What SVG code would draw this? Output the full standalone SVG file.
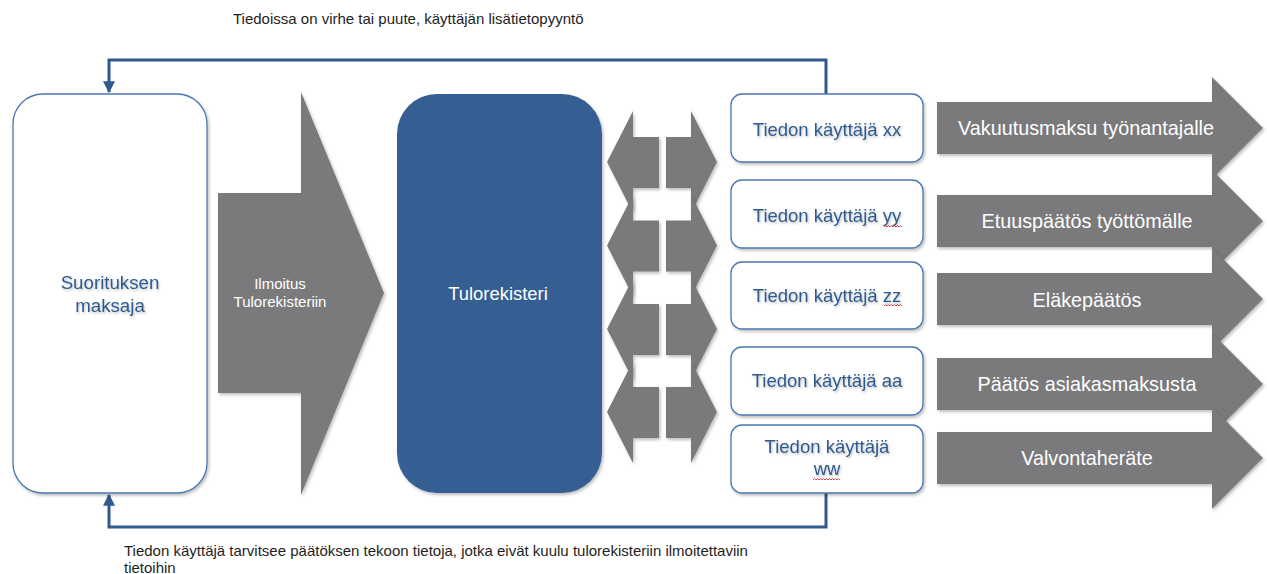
<svg xmlns="http://www.w3.org/2000/svg" width="1267" height="574" viewBox="0 0 1267 574">
<style>
  .gray { fill: #7a7a7c; filter: url(#sh); }
  .ubox { fill: #ffffff; stroke: #4a77b0; stroke-width: 1.3; filter: url(#sh); }
  .btxt { font-family: "Liberation Sans", Arial, sans-serif; fill: #2f5a8e; text-anchor: middle; filter: url(#tsh); }
  .wtxt { font-family: "Liberation Sans", Arial, sans-serif; fill: #ffffff; text-anchor: middle; }
  .ktxt { font-family: "Liberation Sans", Arial, sans-serif; fill: #1e1e1e; font-size: 15px; }
  .fb { fill: none; stroke: #30598f; stroke-width: 3; }
  .sq { fill: none; stroke: #e03030; stroke-width: 0.9; }
</style>
<defs>
  <filter id="sh" x="-10%" y="-10%" width="130%" height="130%">
    <feDropShadow dx="1.5" dy="2" stdDeviation="1.5" flood-color="#000" flood-opacity="0.25"/>
  </filter>
  <filter id="tsh" x="-10%" y="-30%" width="130%" height="180%">
    <feDropShadow dx="1" dy="1.5" stdDeviation="1" flood-color="#000" flood-opacity="0.25"/>
  </filter>
  <marker id="ah" viewBox="0 0 10 10" refX="9" refY="5" markerWidth="4" markerHeight="4" orient="auto" markerUnits="strokeWidth">
    <path d="M0,0 L10,5 L0,10 Z" fill="#30598f"/>
  </marker>
</defs>

<g id="connectors">
  <path class="fb" d="M826,94 V60 H109 V92" marker-end="url(#ah)"/>
  <path class="fb" d="M826,493 V527 H109 V495" marker-end="url(#ah)"/>
</g>

<g id="label-top">
  <text class="ktxt" x="233" y="24">Tiedoissa on virhe tai puute, käyttäjän lisätietopyyntö</text>
</g>
<g id="label-bottom">
  <text class="ktxt" x="124" y="556">Tiedon käyttäjä tarvitsee päätöksen tekoon tietoja, jotka eivät kuulu tulorekisteriin ilmoitettaviin</text>
  <text class="ktxt" x="124" y="573">tietoihin</text>
</g>

<g id="suorituksen-maksaja">
  <rect x="13" y="94" width="194" height="399" rx="30" fill="#ffffff" stroke="#4a77b0" stroke-width="1.3" filter="url(#sh)"/>
  <text class="btxt" font-size="18.7" x="110" y="289">Suorituksen</text>
  <text class="btxt" font-size="18.7" x="110" y="312">maksaja</text>
</g>

<g id="ilmoitus-arrow">
  <polygon class="gray" points="218,193 301,193 301,92 384,293 301,495 301,393 218,393"/>
  <text class="wtxt" font-size="15" x="280" y="289">Ilmoitus</text>
  <text class="wtxt" font-size="15" x="280" y="307">Tulorekisteriin</text>
</g>

<g id="tulorekisteri">
  <rect x="397" y="94" width="205" height="399" rx="40" fill="#365f92" filter="url(#sh)"/>
  <text class="wtxt" font-size="18.4" x="498" y="300">Tulorekisteri</text>
</g>

<g id="exchange-arrows">
  <polygon class="gray" points="607,162 633,111 633,137 659,137 659,188 633,188 633,213"/>
  <polygon class="gray" points="666,137 691,137 691,111 717,162 691,213 691,188 666,188"/>
  <polygon class="gray" points="607,245.5 633,194.5 633,220.5 659,220.5 659,271.5 633,271.5 633,296.5"/>
  <polygon class="gray" points="666,220.5 691,220.5 691,194.5 717,245.5 691,296.5 691,271.5 666,271.5"/>
  <polygon class="gray" points="607,329 633,278 633,304 659,304 659,355 633,355 633,380"/>
  <polygon class="gray" points="666,304 691,304 691,278 717,329 691,380 691,355 666,355"/>
  <polygon class="gray" points="607,412 633,361 633,387 659,387 659,438 633,438 633,463"/>
  <polygon class="gray" points="666,387 691,387 691,361 717,412 691,463 691,438 666,438"/>
</g>

<g id="user-xx">
  <rect class="ubox" x="731" y="94" width="192" height="68" rx="11"/>
  <text class="btxt" font-size="18.5" x="827" y="136">Tiedon käyttäjä xx</text>
</g>
<g id="user-yy">
  <rect class="ubox" x="731" y="180" width="192" height="68" rx="11"/>
  <text class="btxt" font-size="18.5" x="827" y="222">Tiedon käyttäjä yy</text>
  <path class="sq" d="M884,227 l1.5,-1.5 l1.5,1.5 l1.5,-1.5 l1.5,1.5 l1.5,-1.5 l1.5,1.5 l1.5,-1.5 l1.5,1.5 l1.5,-1.5 l1.5,1.5 l1.5,-1.5 l1.5,1.5"/>
</g>
<g id="user-zz">
  <rect class="ubox" x="731" y="262" width="192" height="67" rx="11"/>
  <text class="btxt" font-size="18.5" x="827" y="302">Tiedon käyttäjä zz</text>
  <path class="sq" d="M884,306 l1.5,-1.5 l1.5,1.5 l1.5,-1.5 l1.5,1.5 l1.5,-1.5 l1.5,1.5 l1.5,-1.5 l1.5,1.5 l1.5,-1.5 l1.5,1.5 l1.5,-1.5 l1.5,1.5"/>
</g>
<g id="user-aa">
  <rect class="ubox" x="731" y="347" width="192" height="68" rx="11"/>
  <text class="btxt" font-size="18.5" x="827" y="387">Tiedon käyttäjä aa</text>
</g>
<g id="user-ww">
  <rect class="ubox" x="731" y="425" width="192" height="68" rx="11"/>
  <text class="btxt" font-size="18.5" x="827" y="453">Tiedon käyttäjä</text>
  <text class="btxt" font-size="18.5" x="827" y="475">ww</text>
  <path class="sq" d="M813,480 l1.5,-1.5 l1.5,1.5 l1.5,-1.5 l1.5,1.5 l1.5,-1.5 l1.5,1.5 l1.5,-1.5 l1.5,1.5 l1.5,-1.5 l1.5,1.5 l1.5,-1.5 l1.5,1.5 l1.5,-1.5 l1.5,1.5 l1.5,-1.5 l1.5,1.5 l1.5,-1.5 l1.5,1.5"/>
</g>

<g id="out-vakuutusmaksu">
  <polygon class="gray" points="937,102 1212,102 1212,77 1263,128 1212,179 1212,154 937,154"/>
  <text class="wtxt" font-size="19.8" x="1086" y="135">Vakuutusmaksu työnantajalle</text>
</g>
<g id="out-etuuspaatos">
  <polygon class="gray" points="937,195 1212,195 1212,170 1263,221 1212,272 1212,247 937,247"/>
  <text class="wtxt" font-size="19.8" x="1087" y="228">Etuuspäätös työttömälle</text>
</g>
<g id="out-elakepaatos">
  <polygon class="gray" points="937,273 1212,273 1212,248 1263,299 1212,350 1212,325 937,325"/>
  <text class="wtxt" font-size="19.8" x="1087" y="307">Eläkepäätös</text>
</g>
<g id="out-asiakasmaksu">
  <polygon class="gray" points="937,358 1212,358 1212,333 1263,384 1212,435 1212,410 937,410"/>
  <text class="wtxt" font-size="19.8" x="1087" y="391">Päätös asiakasmaksusta</text>
</g>
<g id="out-valvonta">
  <polygon class="gray" points="937,432 1212,432 1212,407 1263,458 1212,509 1212,484 937,484"/>
  <text class="wtxt" font-size="19.8" x="1087" y="465">Valvontaheräte</text>
</g>
</svg>
